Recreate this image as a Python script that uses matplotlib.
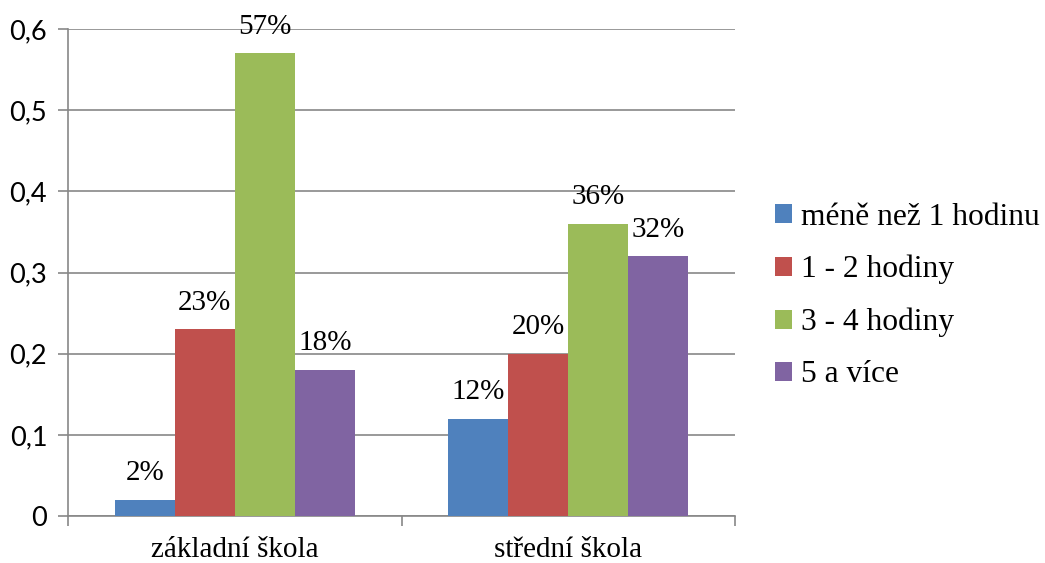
import matplotlib
matplotlib.use("Agg")
import matplotlib.pyplot as plt
import numpy as np

categories = ["základní škola", "střední škola"]
series_names = ["méně než 1 hodinu", "1 - 2 hodiny", "3 - 4 hodiny", "5 a více"]
values = {
    "méně než 1 hodinu": [0.02, 0.12],
    "1 - 2 hodiny": [0.23, 0.20],
    "3 - 4 hodiny": [0.57, 0.36],
    "5 a více": [0.18, 0.32],
}
colors = ["#4F81BD", "#C0504D", "#9BBB59", "#8064A2"]
yticks = [0, 0.1, 0.2, 0.3, 0.4, 0.5, 0.6]
ytick_labels = ["0", "0,1", "0,2", "0,3", "0,4", "0,5", "0,6"]

serif = "Liberation Serif"
sans = "Lato"

fig = plt.figure(figsize=(10.45, 5.63), dpi=100)
ax = fig.add_axes([68/1045, 1-516/563, (735-68)/1045, (516-29)/563])

x = np.arange(len(categories))
w = 0.18
for i, name in enumerate(series_names):
    pos = x + (i - 1.5) * w
    bars = ax.bar(pos, values[name], width=w, color=colors[i], label=name, zorder=3)
    for b, v in zip(bars, values[name]):
        ax.annotate(f"{round(v*100)}%", (b.get_x() + b.get_width()/2, v),
                    xytext=(0, 14), textcoords="offset points", ha="center", va="baseline",
                    fontsize=21, family=serif, zorder=4)

ax.set_xlim(-0.5, 1.5)
ax.set_ylim(0, 0.6)
ax.set_yticks(yticks)
ax.set_yticklabels(ytick_labels, family=sans, fontsize=19.5)
ax.yaxis.grid(True, color="#878787", linewidth=1.2, zorder=0)
ax.set_xticks([-0.5, 0.5, 1.5])
ax.set_xticklabels([])
ax.set_xticks(x, minor=True)
ax.set_xticklabels(categories, minor=True, family=serif, fontsize=21)
ax.tick_params(axis="x", which="minor", length=0, pad=15)
ax.tick_params(axis="x", which="major", length=7, color="#878787", width=1.2)
ax.tick_params(axis="y", length=7, color="#878787", width=1.2, pad=8)
for s in ["top", "right"]:
    ax.spines[s].set_visible(False)
for s in ["left", "bottom"]:
    ax.spines[s].set_color("#878787")
    ax.spines[s].set_linewidth(1.2)
ax.set_axisbelow(True)

leg = fig.legend(loc="center left", bbox_to_anchor=(775/1045, 1-296/563),
                 frameon=False, prop={"family": serif, "size": 22.7},
                 handlelength=0.55, handleheight=0.55, handletextpad=0.27,
                 labelspacing=0.74, borderpad=0, borderaxespad=0)

fig.savefig("out.png", dpi=100)
